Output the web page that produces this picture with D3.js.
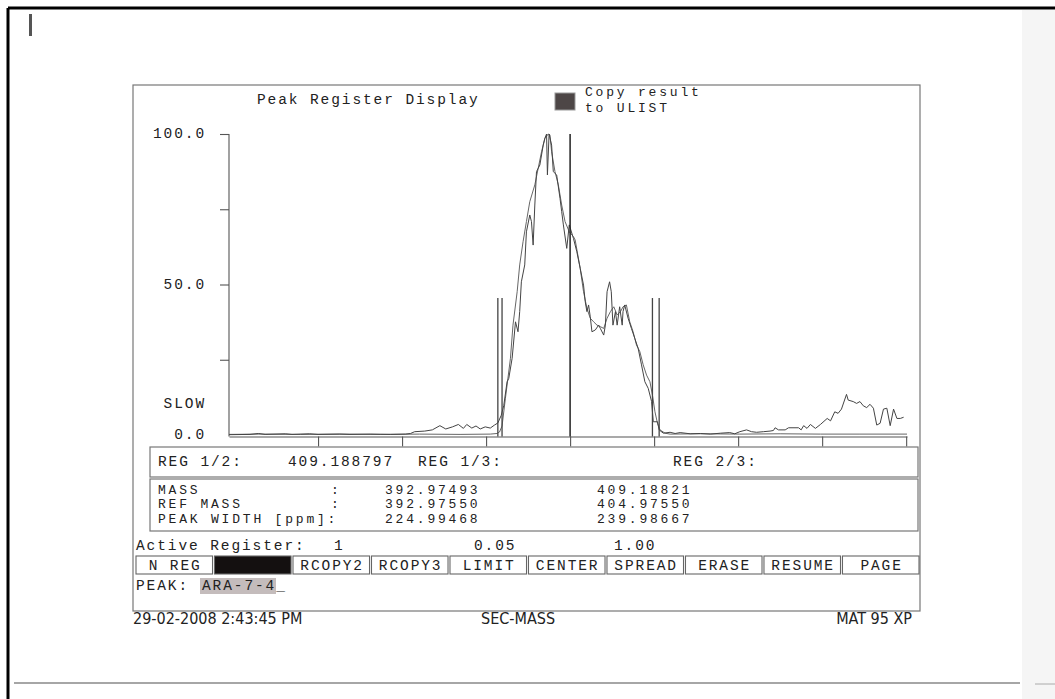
<!DOCTYPE html>
<html>
<head>
<meta charset="utf-8">
<script src="https://cdn.jsdelivr.net/npm/d3@7"></script>
<style>
  body { margin: 0; background: #fff; }
  svg { display: block; }
  .mono { font-family: "Liberation Mono", "DejaVu Sans Mono", monospace; font-size: 14.5px; letter-spacing: 1.9px; fill: #222; }
  .mono.small { font-size: 13px; letter-spacing: 2.8px; }
  .foot { font-family: "DejaVu Sans Condensed", "DejaVu Sans", sans-serif; font-stretch: condensed; font-size: 16px; fill: #222; }
  .frame { fill: none; stroke: #777; stroke-width: 1.2; }
</style>
</head>
<body>
<svg id="page" width="1055" height="699"></svg>
<script>
// peak register scan: x in axis tick units (center tick = 0), y in % of max
const traceA = [
  [-4.06,0.2],[-3.69,0.3],[-3.21,0.2],[-2.74,0.3],[-2.26,0.2],[-1.79,0.3],[-1.31,0.2],[-0.95,0.3],
  [-0.87,0.5],[-0.84,1.0],[-0.81,3.0],[-0.77,12.2],[-0.71,25.5],[-0.68,36.5],[-0.63,47.6],[-0.60,56.5],
  [-0.56,64.2],[-0.52,70.9],[-0.48,77.5],[-0.42,83.1],[-0.38,88.6],[-0.34,94.1],[-0.30,98.6],[-0.26,100],
  [-0.24,99.7],[-0.22,94.1],[-0.18,87.5],[-0.14,83.1],[-0.10,76.4],[-0.06,70.9],[-0.01,67.5],[0.04,65.9],
  [0.06,64.8],[0.12,55.4],[0.16,47.6],[0.20,42.1],[0.24,38.8],[0.28,37.6],[0.32,36.5],[0.36,36.0],
  [0.40,35.4],[0.44,38.8],[0.48,41.0],[0.52,42.6],[0.56,39.9],[0.60,41.0],[0.63,42.6],[0.67,43.2],
  [0.71,37.6],[0.75,34.3],[0.79,29.9],[0.83,27.7],[0.87,23.3],[0.91,19.9],[0.95,17.7],[0.98,13.3],
  [1.01,7.7],[1.04,3.9],[1.07,1.7],[1.13,0.6],[1.19,0.3],[1.55,0.4],[2.02,0.3],[2.50,0.4],
  [2.98,0.3],[3.45,0.3],[4.01,0.3]
];
const traceB = [
  [-4.06,0.1],[-3.81,0.2],[-3.71,0.5],[-3.63,0.2],[-3.39,0.4],[-3.31,0.2],[-3.10,0.4],[-3.00,0.2],
  [-2.74,0.3],[-2.62,0.2],[-2.38,0.3],[-2.14,0.2],[-1.96,0.3],[-1.90,0.5],[-1.85,1.1],[-1.73,1.3],
  [-1.64,1.7],[-1.55,3.1],[-1.48,2.0],[-1.40,2.7],[-1.33,3.5],[-1.27,2.2],[-1.23,3.5],[-1.17,2.3],
  [-1.12,3.0],[-1.07,2.0],[-1.01,2.7],[-0.95,2.3],[-0.90,3.3],[-0.86,4.0],[-0.82,6.5],[-0.79,9.7],
  [-0.75,17.7],[-0.73,18.8],[-0.69,25.5],[-0.65,37.6],[-0.62,34.3],[-0.60,41.0],[-0.58,50.9],[-0.54,56.5],
  [-0.52,67.5],[-0.48,73.1],[-0.46,70.9],[-0.44,63.1],[-0.42,76.4],[-0.40,87.5],[-0.36,89.7],[-0.32,96.3],
  [-0.30,98.6],[-0.28,100],[-0.27,86.4],[-0.25,100],[-0.22,96.3],[-0.20,87.5],[-0.16,86.4],[-0.12,78.6],
  [-0.10,74.2],[-0.08,69.8],[-0.04,62.0],[-0.01,69.8],[0.04,65.3],[0.08,60.9],[0.12,55.4],[0.16,49.8],
  [0.18,44.3],[0.20,41.0],[0.22,43.2],[0.24,39.3],[0.26,34.3],[0.30,34.9],[0.34,36.5],[0.36,35.4],
  [0.40,33.2],[0.42,36.5],[0.44,47.6],[0.47,50.9],[0.49,47.6],[0.51,36.5],[0.54,41.0],[0.56,36.5],
  [0.59,42.6],[0.62,36.5],[0.63,41.0],[0.65,43.2],[0.69,38.8],[0.73,35.4],[0.77,32.1],[0.81,28.8],
  [0.85,23.3],[0.89,17.7],[0.93,15.5],[0.97,11.1],[0.99,4.4],[1.04,4.4],[1.06,1.7],[1.11,0.6],
  [1.19,0.9],[1.25,0.5],[1.31,0.8],[1.43,0.4],[1.55,0.5],[1.67,0.3],[1.79,0.6],[1.90,0.8],
  [1.96,0.4],[2.02,1.1],[2.10,1.7],[2.16,1.1],[2.22,0.9],[2.30,1.1],[2.38,1.3],[2.42,1.5],
  [2.44,2.4],[2.48,1.7],[2.56,1.7],[2.60,2.4],[2.72,2.4],[2.75,1.7],[2.78,3.1],[2.82,2.2],
  [2.86,3.5],[2.92,2.2],[2.98,3.5],[3.06,5.5],[3.10,4.7],[3.15,7.7],[3.19,7.2],[3.23,8.6],
  [3.29,13.5],[3.31,11.6],[3.37,11.1],[3.41,10.5],[3.45,11.1],[3.49,9.7],[3.53,9.1],[3.57,10.2],
  [3.61,8.9],[3.65,3.3],[3.69,3.9],[3.73,8.6],[3.77,8.9],[3.81,3.1],[3.85,8.6],[3.89,5.5],
  [3.93,5.5],[3.97,5.9]
];
const regionMarkers = [-0.86, -0.81, 0.98, 1.06];
const regionHeight = 45.5;
const centerMarker = 0;
const xTicks = [-3, -2, -1, 0, 1, 2, 3, 4];
const yTicks = [25, 50, 75, 100];
const yLabels = [[100, "100.0"], [50, "50.0"], [10.3, "SLOW"], [0, "0.0"]];

const regRow = [["REG 1/2:", 158], ["409.188797", 288], ["REG 1/3:", 418], ["REG 2/3:", 673]];
const massLabels = ["MASS", "REF MASS", "PEAK WIDTH [ppm]:"];
const massColons = [":", ":", ""];
const massReg1 = ["392.97493", "392.97550", "224.99468"];
const massReg2 = ["409.18821", "404.97550", "239.98667"];
const buttons = ["N REG", "", "RCOPY2", "RCOPY3", "LIMIT", "CENTER", "SPREAD", "ERASE", "RESUME", "PAGE"];

const svg = d3.select("#page");

// scanned page edges
svg.append("rect").attr("x", 1022).attr("y", 10).attr("width", 33).attr("height", 689).attr("fill", "#f5f5f5");
svg.append("line").attr("x1", 8).attr("x2", 1055).attr("y1", 8).attr("y2", 8).attr("stroke", "#000").attr("stroke-width", 3);
svg.append("line").attr("x1", 8).attr("x2", 8).attr("y1", 8).attr("y2", 699).attr("stroke", "#000").attr("stroke-width", 3);
svg.append("line").attr("x1", 14).attr("x2", 1020).attr("y1", 683).attr("y2", 683).attr("stroke", "#888").attr("stroke-width", 1.5);
svg.append("line").attr("x1", 1035).attr("x2", 1055).attr("y1", 684).attr("y2", 684).attr("stroke", "#aaa").attr("stroke-width", 1);
svg.append("rect").attr("x", 29).attr("y", 14).attr("width", 3).attr("height", 22).attr("fill", "#555");

// screen frame
svg.append("rect").attr("class", "frame").attr("x", 133).attr("y", 85).attr("width", 787).attr("height", 526);

svg.append("text").attr("class", "mono").attr("x", 257).attr("y", 100).attr("dominant-baseline", "central").text("Peak Register Display");
svg.append("rect").attr("x", 555).attr("y", 93).attr("width", 20).attr("height", 17).attr("fill", "#4d4646").attr("stroke", "#999");
svg.append("text").attr("class", "mono small").attr("x", 585).attr("y", 92).attr("dominant-baseline", "central").text("Copy result");
svg.append("text").attr("class", "mono small").attr("x", 585).attr("y", 108).attr("dominant-baseline", "central").text("to ULIST");

// plot
const x = d3.scaleLinear().domain([-4.06, 4.01]).range([229, 907]);
const y = d3.scaleLinear().domain([0, 100]).range([435, 134]);

const xAxis = svg.append("g").attr("transform", `translate(0,${y(0) + 1.5})`)
  .call(d3.axisBottom(x).tickValues(xTicks).tickSize(10).tickSizeOuter(0).tickFormat(""));
const yAxis = svg.append("g").attr("transform", `translate(${x(-4.06)},0)`)
  .call(d3.axisLeft(y).tickValues(yTicks).tickSize(9).tickSizeOuter(0).tickFormat(""));
yAxis.select(".domain").attr("d", `M0,${y(100)}V${y(0) + 1.5}`);
[xAxis, yAxis].forEach(g => {
  g.selectAll("path, line").attr("stroke", "#555").attr("stroke-width", 1.1);
});

svg.selectAll("text.ylab").data(yLabels).enter().append("text")
  .attr("class", "mono ylab").attr("x", 206).attr("y", d => y(d[0]))
  .attr("text-anchor", "end").attr("dominant-baseline", "central").text(d => d[1]);

const line = d3.line().x(d => x(d[0])).y(d => y(d[1]));
svg.append("path").datum(traceA).attr("d", line).attr("fill", "none").attr("stroke", "#666").attr("stroke-width", 1);
svg.append("path").datum(traceB).attr("d", line).attr("fill", "none").attr("stroke", "#444").attr("stroke-width", 1);

svg.selectAll("line.region").data(regionMarkers).enter().append("line")
  .attr("class", "region").attr("x1", d => x(d)).attr("x2", d => x(d))
  .attr("y1", y(regionHeight)).attr("y2", y(0) + 1.5).attr("stroke", "#444").attr("stroke-width", 1.3);
svg.append("line").attr("x1", x(centerMarker)).attr("x2", x(centerMarker))
  .attr("y1", y(100)).attr("y2", y(0) + 1.5).attr("stroke", "#222").attr("stroke-width", 1.5);

// register box
svg.append("rect").attr("class", "frame").attr("x", 150).attr("y", 447).attr("width", 768).attr("height", 30);
svg.selectAll("text.reg").data(regRow).enter().append("text")
  .attr("class", "mono reg").attr("x", d => d[1]).attr("y", 462).attr("dominant-baseline", "central").text(d => d[0]);

// mass box
svg.append("rect").attr("class", "frame").attr("x", 150).attr("y", 479).attr("width", 768).attr("height", 52);
massLabels.forEach((t, i) => {
  const yy = 490 + i * 14.5;
  const row = [[t, 158], [massColons[i], 331], [massReg1[i], 385], [massReg2[i], 597]];
  row.forEach(c => {
    svg.append("text").attr("class", "mono small").attr("x", c[1]).attr("y", yy)
      .attr("dominant-baseline", "central").text(c[0]);
  });
});

// active register row
svg.append("text").attr("class", "mono").attr("x", 136).attr("y", 546).attr("dominant-baseline", "central").text("Active Register:");
svg.append("text").attr("class", "mono").attr("x", 334).attr("y", 546).attr("dominant-baseline", "central").text("1");
svg.append("text").attr("class", "mono").attr("x", 474).attr("y", 546).attr("dominant-baseline", "central").text("0.05");
svg.append("text").attr("class", "mono").attr("x", 614).attr("y", 546).attr("dominant-baseline", "central").text("1.00");

// soft keys
const bx = d3.scaleBand().domain(d3.range(buttons.length)).range([136, 919]).paddingInner(0.025);
const keys = svg.selectAll("g.key").data(buttons).enter().append("g").attr("class", "key")
  .attr("transform", (d, i) => `translate(${bx(i)},556)`);
keys.append("rect").attr("width", bx.bandwidth()).attr("height", 18)
  .attr("fill", d => d === "" ? "#141010" : "#fff").attr("stroke", "#666").attr("stroke-width", 1.1);
keys.append("text").attr("class", "mono").attr("x", bx.bandwidth() / 2 + 0.9).attr("y", 9.5)
  .attr("text-anchor", "middle").attr("dominant-baseline", "central").text(d => d);

// peak name
svg.append("text").attr("class", "mono").attr("x", 136).attr("y", 586).attr("dominant-baseline", "central").text("PEAK:");
svg.append("rect").attr("x", 200).attr("y", 578).attr("width", 76).attr("height", 16).attr("fill", "#c4bcbc");
svg.append("text").attr("class", "mono").attr("x", 202).attr("y", 586).attr("dominant-baseline", "central").text("ARA-7-4_");

// footer
svg.append("text").attr("class", "foot").attr("x", 133).attr("y", 618).attr("dominant-baseline", "central").text("29-02-2008 2:43:45 PM");
svg.append("text").attr("class", "foot").attr("x", 518).attr("y", 618).attr("text-anchor", "middle").attr("dominant-baseline", "central").text("SEC-MASS");
svg.append("text").attr("class", "foot").attr("x", 912).attr("y", 618).attr("text-anchor", "end").attr("dominant-baseline", "central").text("MAT 95 XP");
</script>
</body>
</html>
